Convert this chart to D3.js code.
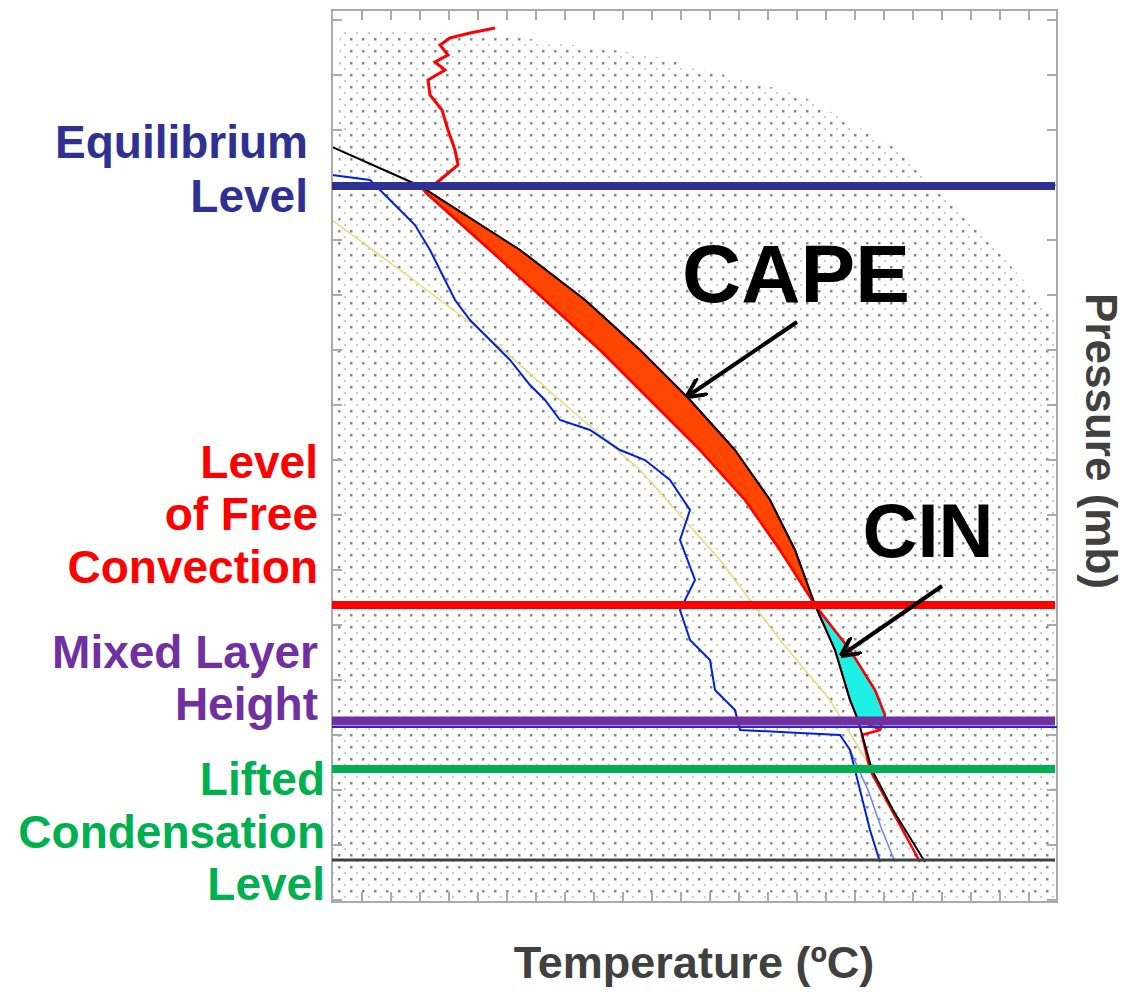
<!DOCTYPE html>
<html><head><meta charset="utf-8">
<script src="https://cdn.jsdelivr.net/npm/d3@7"></script>
<style>body{margin:0;background:#fff}text{font-family:"Liberation Sans",Arial,sans-serif;font-weight:bold}</style>
</head><body>
<svg id="c" width="1127" height="992"></svg>
<script>
// [temperature degC, pressure mb]
const parcel = [[-45,227],[-36.2,266],[-26.2,330],[-19.7,380],[-14.2,430],[-9.2,480],[-4.7,530],[-1.2,580],[1.3,630],[3.3,685],[5.3,730],[6.8,780],[7.6,800],[9,850],[11.1,890],[14.3,942]];
const tempUpper = [[-28.7,108],[-31.2,113],[-33.2,118],[-34.2,125],[-33.4,135],[-34.7,142],[-33.7,150],[-35.4,160],[-35.2,175],[-34,190],[-33.4,210],[-32.7,230],[-32.4,245],[-34.2,260],[-35.7,272]];
const tempLower = [[-35.7,272],[-29.2,330],[-23.7,380],[-18.2,430],[-13.2,480],[-8.2,530],[-3.7,580],[-0.2,630],[3.3,685],[6.8,730],[9.3,770],[10.3,795],[9.8,810],[8,815],[8.8,850],[13.8,942]];
const dewpoint = [[-45,255],[-41.2,260],[-40.2,270],[-38.2,290],[-36.7,305],[-35.2,330],[-34.2,350],[-32.7,380],[-31.2,400],[-29.2,420],[-27.2,440],[-25.2,465],[-23.7,480],[-22.2,500],[-19.2,510],[-16.2,530],[-13.7,540],[-11.2,560],[-9.2,590],[-10.2,620],[-8.7,660],[-10.2,690],[-9.2,720],[-7.2,740],[-6.7,770],[-4.7,790],[-4.2,810],[1.8,813],[5.8,815],[6.8,830],[7.8,870],[8.8,910],[9.8,942]];
const dewFaint = [[6.8,830],[8.6,870],[10,910],[11.3,942]];
const mixRatio = [[-45,300],[-38.2,350],[-30.2,410],[-22.2,480],[-14.2,550],[-6.2,640],[-0.2,720],[4.8,780],[7.8,830],[9,850]];
const stippleEdge = [[-44.2,110],[-28.2,115],[-13.2,135],[1.8,175],[11.8,230],[19.8,310],[27.5,400],[27.5,982],[-45,982]];
const levels = [
  {name:"EL", p:266, color:"#2e3192", w:8},
  {name:"LFC", p:685, color:"#ff0000", w:8},
  {name:"MLH", p:801, color:"#7030a0", w:9},
  {name:"LCL", p:849, color:"#00b050", w:8},
  {name:"SFC", p:940, color:"#404040", w:3}
];
const labels = [
  {lines:["Equilibrium","Level"], color:"#2e3192", p:[238,292], right:308},
  {lines:["Level","of Free","Convection"], color:"#ff0000", p:[558,610,663], right:318},
  {lines:["Mixed Layer","Height"], color:"#7030a0", p:[748,800], right:318},
  {lines:["Lifted","Condensation","Level"], color:"#00b050", p:[875,928,980], right:325}
];

const svg = d3.select("#c");
const x = d3.scaleLinear().domain([-45, 27.5]).range([332, 1057]);
const y = d3.scaleLinear().domain([90, 982]).range([10, 902]);
const line = d3.line().x(d => x(d[0])).y(d => y(d[1]));

// stipple
const defs = svg.append("defs");
const pat = defs.append("pattern").attr("id","dots").attr("patternUnits","userSpaceOnUse").attr("width",12).attr("height",12);
pat.append("rect").attr("x",2).attr("y",2).attr("width",2.5).attr("height",2.5).attr("fill","#888");
pat.append("rect").attr("x",8).attr("y",8).attr("width",2).attr("height",2).attr("fill","#ccc");
defs.append("clipPath").attr("id","plot").append("rect").attr("x",332).attr("y",10).attr("width",725).attr("height",892);
const g = svg.append("g").attr("clip-path","url(#plot)");
g.append("path").attr("d", line(stippleEdge) + "Z").attr("fill","url(#dots)");

// frame and ticks
svg.append("rect").attr("x",332).attr("y",10).attr("width",725).attr("height",892).attr("fill","none").attr("stroke","#aaa").attr("stroke-width",2);
const xt = d3.range(-42, 27.5, 2.9);
svg.append("g").selectAll("line").data(xt).join("line").attr("x1",d=>x(d)).attr("x2",d=>x(d)).attr("y1",10).attr("y2",20).attr("stroke","#aaa").attr("stroke-width",2);
svg.append("g").selectAll("line").data(xt).join("line").attr("x1",d=>x(d)).attr("x2",d=>x(d)).attr("y1",892).attr("y2",902).attr("stroke","#aaa").attr("stroke-width",2);
const yt = d3.range(100, 982, 55);
svg.append("g").selectAll("line").data(yt).join("line").attr("x1",332).attr("x2",342).attr("y1",d=>y(d)).attr("y2",d=>y(d)).attr("stroke","#aaa").attr("stroke-width",2);
svg.append("g").selectAll("line").data(yt).join("line").attr("x1",1047).attr("x2",1057).attr("y1",d=>y(d)).attr("y2",d=>y(d)).attr("stroke","#aaa").attr("stroke-width",2);

// CAPE and CIN areas
const capeBlack = parcel.filter(d => d[1] >= 266 && d[1] <= 685);
const capeRed = tempLower.filter(d => d[1] <= 685).slice().reverse();
g.append("path").attr("d", line(capeBlack.concat(capeRed)) + "Z").attr("fill","#ff4500").attr("stroke","#ff0000").attr("stroke-width",2);
const cinRed = tempLower.filter(d => d[1] >= 685 && d[1] <= 810);
const cinBlack = parcel.filter(d => d[1] >= 685 && d[1] <= 800).slice().reverse();
g.append("path").attr("d", line(cinRed.concat(cinBlack)) + "Z").attr("fill","#1ef0e6").attr("stroke","#ff0000").attr("stroke-width",2);

// profiles
g.append("path").attr("d", line(mixRatio)).attr("fill","none").attr("stroke","#e8d87a").attr("stroke-width",1.5);
g.append("path").attr("d", line(dewFaint)).attr("fill","none").attr("stroke","#7080ff").attr("stroke-width",1.5);
g.append("path").attr("d", line(dewpoint)).attr("fill","none").attr("stroke","#0020e0").attr("stroke-width",2);
g.append("path").attr("d", line(tempUpper)).attr("fill","none").attr("stroke","#ff0000").attr("stroke-width",3);
g.append("path").attr("d", line(tempLower)).attr("fill","none").attr("stroke","#ff0000").attr("stroke-width",2.5);
g.append("path").attr("d", line(parcel)).attr("fill","none").attr("stroke","#000").attr("stroke-width",2);

// level lines
svg.append("g").selectAll("line").data(levels).join("line")
  .attr("x1",332).attr("x2",1055).attr("y1",d=>y(d.p)).attr("y2",d=>y(d.p))
  .attr("stroke",d=>d.color).attr("stroke-width",d=>d.w);
svg.append("line").attr("x1",332).attr("x2",1057).attr("y1",y(807)).attr("y2",y(807)).attr("stroke","#3020d0").attr("stroke-width",2);

// left labels
labels.forEach(l => l.lines.forEach((t, i) => {
  svg.append("text").attr("x",l.right).attr("y",y(l.p[i])).attr("text-anchor","end")
    .attr("font-size",46).attr("fill",l.color).text(t);
}));

// annotations
svg.append("text").attr("x",796).attr("y",302).attr("text-anchor","middle").attr("font-size",82).attr("fill","#000").text("CAPE");
svg.append("text").attr("x",928).attr("y",557).attr("text-anchor","middle").attr("font-size",76).attr("fill","#000").text("CIN");
defs.append("marker").attr("id","ah").attr("viewBox","0 0 10 10").attr("refX",9).attr("refY",5)
  .attr("markerWidth",5).attr("markerHeight",5).attr("orient","auto")
  .append("path").attr("d","M0,0L10,5L0,10").attr("fill","none").attr("stroke","#000").attr("stroke-width",2);
svg.append("line").attr("x1",797).attr("y1",322).attr("x2",688).attr("y2",396).attr("stroke","#000").attr("stroke-width",4).attr("marker-end","url(#ah)");
svg.append("line").attr("x1",942).attr("y1",586).attr("x2",842).attr("y2",655).attr("stroke","#000").attr("stroke-width",4).attr("marker-end","url(#ah)");

// axis titles
svg.append("text").attr("x",694).attr("y",978).attr("text-anchor","middle").attr("font-size",45).attr("fill","#404040").text("Temperature (ºC)");
svg.append("text").attr("transform","translate(1086,441) rotate(90)").attr("text-anchor","middle").attr("font-size",44).attr("fill","#404040").text("Pressure (mb)");
</script>
</body></html>
